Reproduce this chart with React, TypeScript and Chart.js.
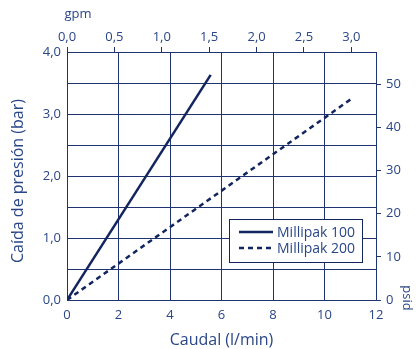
import React, { useEffect, useRef } from "react";
import { Chart, registerables } from "chart.js";

Chart.register(...registerables);

const seriesNames = ["Millipak 100", "Millipak 200"];
const millipak100 = [
  { x: 0, y: 0 },
  { x: 5.58, y: 3.63 },
];
const millipak200 = [
  { x: 0, y: 0 },
  { x: 11.03, y: 3.24 },
];
const flowRange = [0, 12]; // l/min
const pressureRange = [0, 4]; // bar
const gpmRange = [0, 3.26];
const psidRange = [0, 57.5];

const NAVY = "#13255f";
const GRID = "#1e3370";
const TEXT = "#2a4687";
const FONT = "'Open Sans', Lato, sans-serif";

const fmt = (v: number) => v.toFixed(1).replace(".", ",");

const overlay = {
  id: "overlay",
  afterDraw(chart: any) {
    const ctx = chart.ctx;
    const a = chart.chartArea;
    ctx.save();
    ctx.fillStyle = TEXT;
    ctx.font = `16px ${FONT}`;
    ctx.textAlign = "center";
    ctx.textBaseline = "middle";
    // bottom title
    ctx.fillText("Caudal (l/min)", (a.left + a.right) / 2, 340);
    // left title
    ctx.save();
    ctx.translate(18, (a.top + a.bottom) / 2 + 5);
    ctx.rotate(-Math.PI / 2);
    ctx.fillText("Caída de presión (bar)", 0, 0);
    ctx.restore();
    // gpm
    ctx.font = `13px ${FONT}`;
    ctx.fillText("gpm", 78, 14);
    // psid
    ctx.save();
    ctx.translate(407, 298);
    ctx.rotate(Math.PI / 2);
    ctx.fillText("psid", 0, 0);
    ctx.restore();

    // legend box
    const bx = a.right - 147;
    const by = a.bottom - 81;
    const bw = 133;
    const bh = 43;
    ctx.fillStyle = "#ffffff";
    ctx.fillRect(bx, by, bw, bh);
    ctx.strokeStyle = NAVY;
    ctx.lineWidth = 1;
    ctx.strokeRect(bx + 0.5, by + 0.5, bw, bh);
    chart.data.datasets.forEach((ds: any, i: number) => {
      const ly = by + 13 + i * 16;
      ctx.strokeStyle = ds.borderColor;
      ctx.lineWidth = 2.5;
      ctx.setLineDash(ds.borderDash || []);
      ctx.beginPath();
      ctx.moveTo(bx + 10, ly);
      ctx.lineTo(bx + 44, ly);
      ctx.stroke();
      ctx.setLineDash([]);
      ctx.fillStyle = TEXT;
      ctx.font = `14px ${FONT}`;
      ctx.textAlign = "left";
      ctx.fillText(ds.label, bx + 48, ly + 1);
    });
    ctx.restore();
  },
};

export default function App() {
  const ref = useRef<HTMLCanvasElement>(null);
  useEffect(() => {
    if (!ref.current) return;
    const tickFont = { family: FONT, size: 13 };
    const chart = new Chart(ref.current, {
      type: "line",
      data: {
        datasets: [
          {
            label: seriesNames[0],
            data: millipak100,
            borderColor: NAVY,
            borderWidth: 2.5,
            pointRadius: 0,
            xAxisID: "x",
            yAxisID: "y",
          },
          {
            label: seriesNames[1],
            data: millipak200,
            borderColor: NAVY,
            borderWidth: 2.5,
            borderDash: [5, 4],
            pointRadius: 0,
            xAxisID: "x",
            yAxisID: "y",
          },
        ],
      },
      options: {
        responsive: false,
        animation: false,
        layout: { padding: 0 },
        plugins: { legend: { display: false }, tooltip: { enabled: false } },
        scales: {
          x: {
            type: "linear",
            position: "bottom",
            min: flowRange[0],
            max: flowRange[1],
            ticks: { stepSize: 2, color: TEXT, font: tickFont, padding: 7, maxRotation: 0 },
            grid: { color: GRID, lineWidth: 1, drawTicks: false },
            border: { color: GRID, width: 1 },
            afterFit: (s: any) => {
              s.height = 49;
            },
          },
          y: {
            type: "linear",
            position: "left",
            min: pressureRange[0],
            max: pressureRange[1],
            ticks: {
              stepSize: 0.5,
              autoSkip: false,
              color: TEXT,
              font: tickFont,
              padding: 6,
              callback: (v: any) => (Number(v) % 1 === 0 ? fmt(Number(v)) : ""),
            },
            grid: { color: GRID, lineWidth: 1, drawTicks: false },
            border: { color: GRID, width: 1 },
            afterFit: (s: any) => {
              s.width = 67;
            },
          },
          x2: {
            type: "linear",
            position: "top",
            min: gpmRange[0],
            max: gpmRange[1],
            ticks: {
              stepSize: 0.5,
              includeBounds: false,
              color: TEXT,
              font: tickFont,
              padding: 2,
              maxRotation: 0,
              callback: (v: any) => fmt(Number(v)),
            },
            grid: { drawOnChartArea: false, color: GRID, tickLength: 5 },
            border: { color: GRID, width: 1 },
            afterFit: (s: any) => {
              s.height = 52;
            },
          },
          y2: {
            type: "linear",
            position: "right",
            min: psidRange[0],
            max: psidRange[1],
            ticks: {
              stepSize: 10,
              includeBounds: false,
              color: TEXT,
              font: tickFont,
              padding: 5,
            },
            grid: { drawOnChartArea: false, color: GRID, tickLength: 5 },
            border: { color: GRID, width: 1 },
            afterFit: (s: any) => {
              s.width = 41;
            },
          },
        },
      },
      plugins: [overlay],
    });
    return () => chart.destroy();
  }, []);
  return (
    <div style={{ position: "absolute", left: 0, top: 0, width: 417, height: 349, background: "#fff" }}>
      <canvas ref={ref} width={417} height={349} />
    </div>
  );
}
